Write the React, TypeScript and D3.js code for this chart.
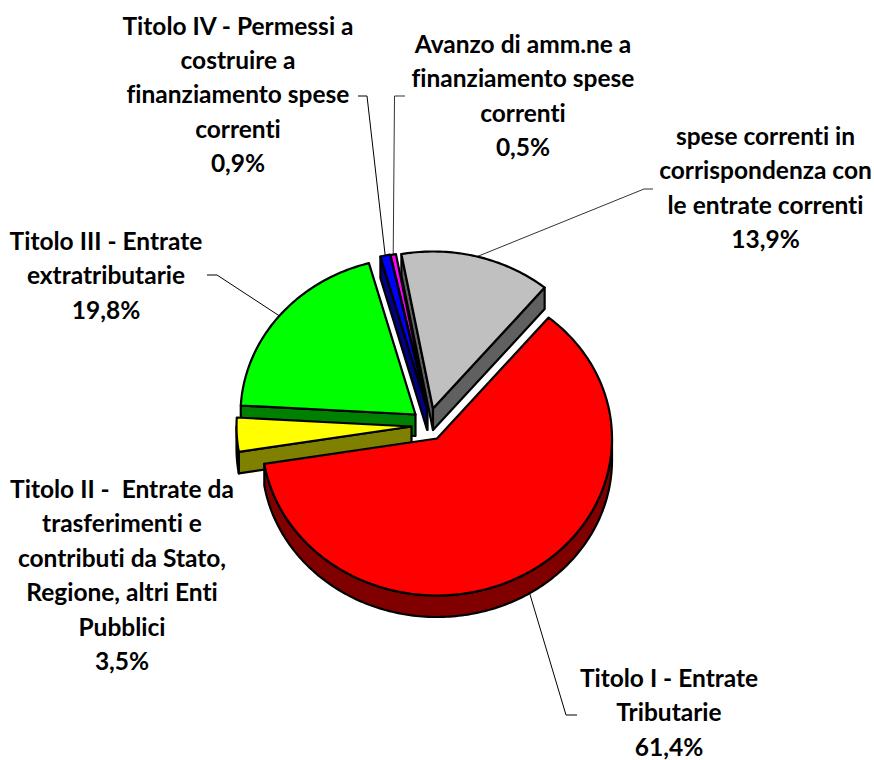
import React from "react";
import * as d3 from "d3";

const sliceNames = ["grigio", "rosso", "giallo", "verde", "blu", "magenta"];
const sliceValues = [13.9, 61.4, 3.5, 19.8, 0.9, 0.5];
const topColors = ["#C0C0C0", "#FF0000", "#FFFF00", "#00FF00", "#0000FF", "#FF00FF"];
const sideColors = ["#606060", "#800000", "#808000", "#008000", "#000080", "#800080"];
const apexX = [433, 437, 411.5, 415.5, 427, 427.5];
const apexY = [408.5, 438.5, 426.5, 414.5, 408, 408.5];
const paintOrder = [0, 5, 4, 3, 2, 1];

const labelLines: string[][] = [
  ["spese correnti in", "corrispondenza con", "le entrate correnti", "13,9%"],
  ["Titolo I - Entrate", "Tributarie", "61,4%"],
  ["Titolo II -  Entrate da", "trasferimenti e", "contributi da Stato,", "Regione, altri Enti", "Pubblici", "3,5%"],
  ["Titolo III - Entrate", "extratributarie", "19,8%"],
  ["Titolo IV - Permessi a", "costruire a", "finanziamento spese", "correnti", "0,9%"],
  ["Avanzo di amm.ne a", "finanziamento spese", "correnti", "0,5%"],
];
const labelCenterX = [765.5, 669, 122, 106, 238, 523];
const labelFirstY = [145, 687, 498, 250, 34.5, 53];
const lineStep = 34.4;

const leaderStub = [[653, 189], [577, 715], null, [207, 275], [358, 96], [405, 96]] as ([number, number] | null)[];
const leaderBend = [[644, 189], [566, 715], null, [217, 275], [367, 96], [394.5, 96]] as ([number, number] | null)[];

const rx = 175;
const ry = 157;
const depth = 21.5;
const startDeg = -10.4;

const toRad = (d: number) => (d * Math.PI) / 180;

export default function App() {
  const pie = d3
    .pie<number>()
    .sort(null)
    .startAngle(toRad(startDeg))
    .endAngle(toRad(startDeg + 360));
  const arcs = pie(sliceValues);
  const line = d3.line<[number, number]>();

  const rim = (i: number, a: number, dy = 0): [number, number] => [
    apexX[i] + rx * Math.sin(a),
    apexY[i] - ry * Math.cos(a) + dy,
  ];
  const rimPts = (i: number, a0: number, a1: number, dy = 0) => {
    const n = Math.max(2, Math.ceil(Math.abs(a1 - a0) / toRad(1)));
    return d3.range(n + 1).map((k) => rim(i, a0 + ((a1 - a0) * k) / n, dy));
  };

  const faces = (i: number) => {
    const { startAngle: a0, endAngle: a1 } = arcs[i];
    const apex: [number, number] = [apexX[i], apexY[i]];
    const apexLow: [number, number] = [apexX[i], apexY[i] + depth];
    const walls: string[] = [];
    if (-Math.cos(a0 - Math.PI / 2) > 0) {
      walls.push(line([apex, rim(i, a0), rim(i, a0, depth), apexLow])! + "Z");
    }
    if (-Math.cos(a1 + Math.PI / 2) > 0) {
      walls.push(line([apex, rim(i, a1), rim(i, a1, depth), apexLow])! + "Z");
    }
    const normal = (a: number) => ((a % (2 * Math.PI)) + 2 * Math.PI) % (2 * Math.PI);
    const b0 = Math.max(normal(a0), Math.PI / 2);
    const span = a1 - a0;
    const b1 = Math.min(normal(a0) + span, (3 * Math.PI) / 2);
    if (b1 > b0) {
      const up = rimPts(i, b0, b1);
      const down = rimPts(i, b1, b0, depth);
      walls.push(line([...up, ...down])! + "Z");
    }
    const top = line([apex, ...rimPts(i, a0, a1)])! + "Z";
    return { walls, top };
  };

  return (
    <svg
      width={874}
      height={760}
      viewBox="0 0 874 760"
      style={{ position: "absolute", left: 0, top: 0, background: "#fff" }}
      fontFamily="Lato, Carlito, sans-serif"
    >
      {arcs.map((d, i) => {
        const stub = leaderStub[i];
        const bend = leaderBend[i];
        if (!stub || !bend) return null;
        const mid = (d.startAngle + d.endAngle) / 2;
        const p = rim(i, mid);
        return (
          <path
            key={sliceNames[i]}
            d={line([stub, bend, p])!}
            fill="none"
            stroke={i === 5 || i === 0 ? "#333" : "#000"}
            strokeWidth={1}
          />
        );
      })}
      {paintOrder.map((i) => {
        const f = faces(i);
        return (
          <g key={sliceNames[i]} stroke="#000" strokeWidth={2.2} strokeLinejoin="round">
            {f.walls.map((w, k) => (
              <path key={k} d={w} fill={sideColors[i]} />
            ))}
            <path d={f.top} fill={topColors[i]} />
          </g>
        );
      })}
      {labelLines.map((lines, i) => (
        <text
          key={i}
          textAnchor="middle"
          fontSize={24.5}
          fontWeight={700}
          fill="#000"
          style={{ whiteSpace: "pre", fontVariantLigatures: "none" }}
        >
          {lines.map((t, k) => (
            <tspan key={k} x={labelCenterX[i]} y={labelFirstY[i] + k * lineStep}>
              {t}
            </tspan>
          ))}
        </text>
      ))}
    </svg>
  );
}
